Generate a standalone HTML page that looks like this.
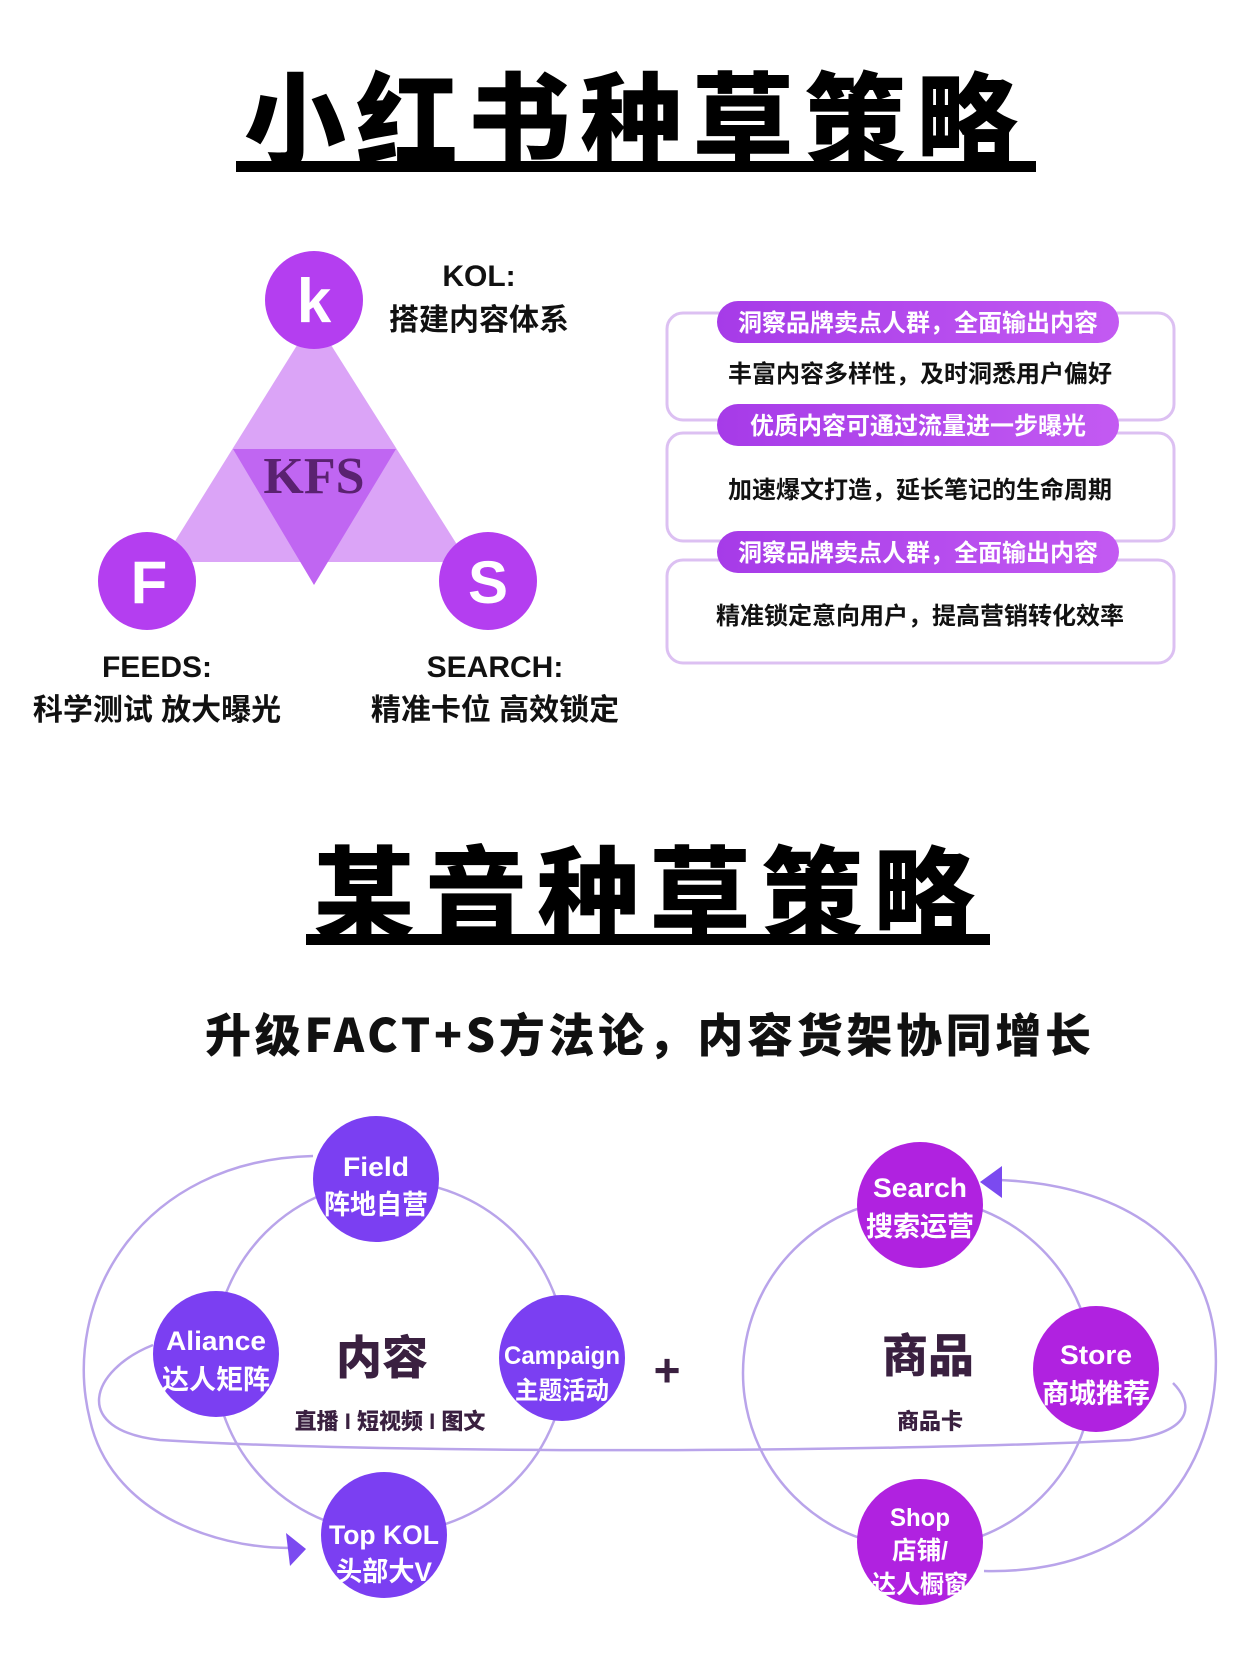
<!DOCTYPE html>
<html><head><meta charset="utf-8">
<style>
html,body{margin:0;padding:0;background:#fff;}
body{width:1245px;height:1660px;overflow:hidden;}
svg text{font-family:"Liberation Sans","Noto Sans CJK SC",sans-serif;}
</style></head>
<body>
<svg width="1245" height="1660" viewBox="0 0 1245 1660" xmlns="http://www.w3.org/2000/svg">
<defs>
<linearGradient id="pill" x1="0" x2="1" y1="0" y2="0">
<stop offset="0" stop-color="#a63be8"/><stop offset="1" stop-color="#c35af2"/>
</linearGradient>
</defs>
<text x="636" y="158" text-anchor="middle" font-size="102" font-weight="900" letter-spacing="10" style="font-family:'Noto Sans CJK SC',sans-serif" fill="#000">小红书种草策略</text>
<rect x="236" y="161" width="800" height="11" fill="#000"/>

<polygon points="314,318 162,562 468,562" fill="#dba4f7"/>
<polygon points="233,449 396,449 314,585" fill="#c066f2"/>
<text x="314" y="493" text-anchor="middle" font-size="52" font-weight="bold" style="font-family:'Liberation Serif',serif" fill="#5a2270">KFS</text>
<circle cx="314" cy="300" r="49" fill="#b43ef0"/>
<text x="314" y="322" text-anchor="middle" font-size="62" font-weight="bold" fill="#fff">k</text>
<circle cx="147" cy="581" r="49" fill="#b43ef0"/>
<text x="149" y="603" text-anchor="middle" font-size="60" font-weight="bold" fill="#fff">F</text>
<circle cx="488" cy="581" r="49" fill="#b43ef0"/>
<text x="488" y="603" text-anchor="middle" font-size="60" font-weight="bold" fill="#fff">S</text>

<g font-size="30" font-weight="bold" fill="#111" text-anchor="middle">
<text x="479" y="286">KOL:</text>
<text x="479" y="330">搭建内容体系</text>
<text x="157" y="677">FEEDS:</text>
<text x="157" y="720">科学测试 放大曝光</text>
<text x="495" y="677">SEARCH:</text>
<text x="495" y="720">精准卡位 高效锁定</text>
</g>

<g fill="none" stroke="#dcc0f2" stroke-width="3">
<rect x="667" y="313" width="507" height="107" rx="16"/>
<rect x="667" y="433" width="507" height="108" rx="16"/>
<rect x="667" y="560" width="507" height="103" rx="16"/>
</g>
<rect x="717" y="301" width="402" height="42" rx="21" fill="url(#pill)"/>
<rect x="717" y="404" width="402" height="42" rx="21" fill="url(#pill)"/>
<rect x="717" y="531" width="402" height="42" rx="21" fill="url(#pill)"/>
<g font-size="24" font-weight="bold" text-anchor="middle">
<text x="918" y="331" fill="#fff">洞察品牌卖点人群，全面输出内容</text>
<text x="918" y="434" fill="#fff">优质内容可通过流量进一步曝光</text>
<text x="918" y="561" fill="#fff">洞察品牌卖点人群，全面输出内容</text>
<text x="920" y="382" fill="#111">丰富内容多样性，及时洞悉用户偏好</text>
<text x="920" y="498" fill="#111">加速爆文打造，延长笔记的生命周期</text>
<text x="920" y="624" fill="#111">精准锁定意向用户，提高营销转化效率</text>
</g>

<text x="649" y="932" text-anchor="middle" font-size="102" font-weight="900" letter-spacing="10" style="font-family:'Noto Sans CJK SC',sans-serif" fill="#000">某音种草策略</text>
<rect x="306" y="934" width="684" height="11" fill="#000"/>

<text x="650" y="1052" text-anchor="middle" font-size="46" font-weight="900" letter-spacing="4" textLength="890" style="font-family:'Noto Sans CJK SC',sans-serif" fill="#111">升级FACT+S方法论，内容货架协同增长</text>

<g fill="none" stroke="#b9a4ea" stroke-width="2.5">
<circle cx="390" cy="1357" r="176"/>
<circle cx="918" cy="1373" r="175"/>
<path d="M313,1156 C140,1160 60,1300 90,1420 C110,1510 210,1548 290,1548"/>
<path d="M984,1571 C1150,1575 1225,1460 1215,1340 C1205,1240 1120,1185 1000,1180"/>
<path d="M153,1345 C90,1370 70,1430 160,1440 C400,1455 900,1452 1130,1440 C1200,1430 1190,1400 1173,1383"/>
</g>
<polygon points="306,1549 286,1533 290,1566" fill="#7b4af0"/>
<polygon points="980,1182 1002,1166 1002,1198" fill="#7b4af0"/>

<g fill="#7b3ff2">
<circle cx="376" cy="1179" r="63"/>
<circle cx="216" cy="1354" r="63"/>
<circle cx="562" cy="1358" r="63"/>
<circle cx="384" cy="1535" r="63"/>
</g>
<g fill="#b022e0">
<circle cx="920" cy="1205" r="63"/>
<circle cx="1096" cy="1369" r="63"/>
<circle cx="920" cy="1542" r="63"/>
</g>
<g font-size="27" font-weight="bold" fill="#fff" text-anchor="middle" lengthAdjust="spacingAndGlyphs">
<text x="376" y="1176" textLength="66" lengthAdjust="spacingAndGlyphs">Field</text>
<text x="376" y="1214" textLength="104" lengthAdjust="spacingAndGlyphs">阵地自营</text>
<text x="216" y="1350" textLength="100" lengthAdjust="spacingAndGlyphs">Aliance</text>
<text x="216" y="1389" textLength="108" lengthAdjust="spacingAndGlyphs">达人矩阵</text>
<text x="562" y="1364" font-size="25" textLength="116" lengthAdjust="spacingAndGlyphs">Campaign</text>
<text x="562" y="1399" font-size="25" textLength="94" lengthAdjust="spacingAndGlyphs">主题活动</text>
<text x="384" y="1544" textLength="110" lengthAdjust="spacingAndGlyphs">Top KOL</text>
<text x="384" y="1581" textLength="96" lengthAdjust="spacingAndGlyphs">头部大V</text>
<text x="920" y="1197" textLength="94" lengthAdjust="spacingAndGlyphs">Search</text>
<text x="920" y="1236" textLength="108" lengthAdjust="spacingAndGlyphs">搜索运营</text>
<text x="1096" y="1364" textLength="72" lengthAdjust="spacingAndGlyphs">Store</text>
<text x="1096" y="1403" textLength="108" lengthAdjust="spacingAndGlyphs">商城推荐</text>
<text x="920" y="1526" font-size="25" textLength="60" lengthAdjust="spacingAndGlyphs">Shop</text>
<text x="920" y="1559" font-size="25" textLength="56" lengthAdjust="spacingAndGlyphs">店铺/</text>
<text x="920" y="1593" font-size="25" textLength="96" lengthAdjust="spacingAndGlyphs">达人橱窗</text>
</g>
<g fill="#3a2040" text-anchor="middle" font-weight="900" style="font-family:'Noto Sans CJK SC',sans-serif">
<text x="382" y="1374" font-size="46">内容</text>
<text x="390" y="1429" font-size="22">直播 I 短视频 I 图文</text>
<text x="667" y="1386" font-size="46">+</text>
<text x="928" y="1372" font-size="46">商品</text>
<text x="930" y="1429" font-size="22">商品卡</text>
</g>
</svg>
</body></html>
